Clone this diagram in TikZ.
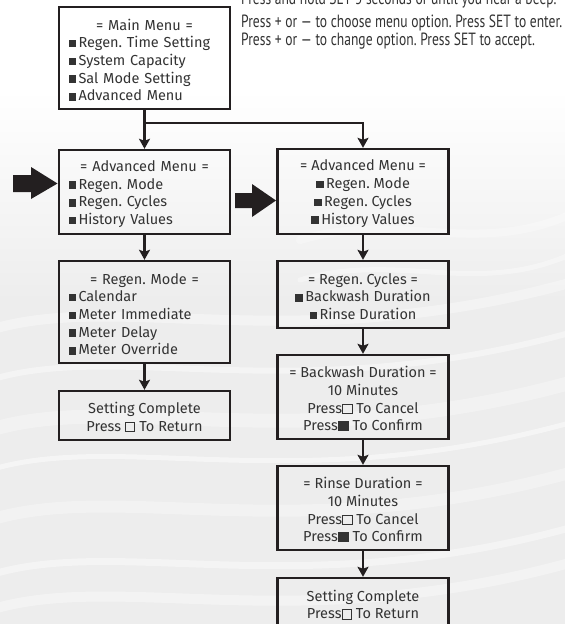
\documentclass[tikz,border=0pt]{standalone}
\usepackage{fontspec}
\setmainfont{Fira Sans}
\newfontfamily\topfont{PT Sans}
\usetikzlibrary{arrows.meta}
\definecolor{ink}{HTML}{231F20}
\definecolor{txt}{HTML}{333333}
\frenchspacing
\newcommand{\bsq}{\rule[0.3pt]{7.5pt}{7.5pt}\hspace{2.5pt}}
\newcommand{\wsq}{{\setlength{\fboxsep}{0pt}\setlength{\fboxrule}{1pt}\fbox{\rule{0pt}{8.5pt}\hspace{8.5pt}}}}
\newcommand{\ksq}{\rule{11pt}{10pt}}
\newcommand{\ttl}[1]{\makebox[152pt]{#1}}
\newcommand{\fst}{\rule{0pt}{15pt}}
\newlength{\notew}
\newcommand{\notefont}{\topfont\fontsize{17.7}{18}\selectfont}
\tikzset{
  box/.style={draw=ink, line width=2.4pt, inner sep=0pt, minimum width=171pt,
    font=\fontsize{14.5}{17.7}\selectfont, text=txt},
  lst/.style={box, text width=152pt, align=left},
  ctr/.style={box, align=center},
  arr/.style={draw=ink, line width=2.4pt, -{Stealth[length=10pt,width=11pt,inset=2pt]}},
  bigarrow/.style={fill=ink},
  note/.style={anchor=base west, inner sep=0pt, text=txt, font=\notefont}
}
\begin{document}
\settowidth{\notew}{\notefont Press + or — to choose menu option. Press SET to enter.}%
\pgfmathsetmacro{\nsx}{321/\notew}%
\begin{tikzpicture}[x=1pt,y=-1pt]
\useasboundingbox (0,0) rectangle (565,624);
% background
\fill[white] (0,0) rectangle (565,624);
\fill[top color=white, bottom color=gray!14] (0,90) rectangle (565,300);
\fill[gray!14] (0,299) rectangle (565,624);
\foreach \y/\w/\o in {330/10/0.35, 380/6/0.4, 430/14/0.3, 470/5/0.45, 520/12/0.3, 575/7/0.4, 610/10/0.35}{
  \draw[white, line width=\w pt, opacity=\o, line cap=round]
    (-10,\y) .. controls (120,\y-40) and (300,\y+30) .. (580,\y-50);
}
\foreach \y/\w/\o in {240/8/0.3, 280/5/0.35}{
  \draw[white, line width=\w pt, opacity=\o, line cap=round]
    (300,\y) .. controls (400,\y-30) and (480,\y+20) .. (580,\y-30);
}
% top notes (condensed to the reference width)
\node[note] (n1) at (241,4.5) {\scalebox{\nsx}[1]{Press and hold SET 5 seconds or until you hear a beep.}};
\node[note] (n2) at (241,27.3) {\scalebox{\nsx}[1]{Press + or — to choose menu option. Press SET to enter.}};
\node[note] (n3) at (241,45.3) {\scalebox{\nsx}[1]{Press + or — to change option. Press SET to accept.}};
% left column
\node[lst, minimum height=102pt] (main) at (144.5,58) {\fst\ttl{= Main Menu =}\\ \bsq Regen. Time Setting\\ \bsq System Capacity\\ \bsq Sal Mode Setting\\ \bsq Advanced Menu};
\node[lst, minimum height=84pt] (advL) at (144.5,192) {\fst\ttl{= Advanced Menu =}\\ \bsq Regen. Mode\\ \bsq Regen. Cycles\\ \bsq History Values};
\node[lst, minimum height=102pt] (modeL) at (144.5,312) {\fst\ttl{= Regen. Mode =}\\ \bsq Calendar\\ \bsq Meter Immediate\\ \bsq Meter Delay\\ \bsq Meter Override};
\node[ctr, minimum height=49pt] (doneL) at (144.5,415.5) {\fst Setting Complete\\ Press \wsq{} To Return};
% right column
\node[ctr, minimum height=85pt] (advR) at (363,191.5) {\fst= Advanced Menu =\\ \bsq Regen. Mode\\ \bsq Regen. Cycles\\ \bsq History Values};
\node[ctr, minimum height=67pt] (cyc) at (363,294.5) {\fst= Regen. Cycles =\\ \bsq Backwash Duration\\ \bsq Rinse Duration};
\node[ctr, minimum height=84pt] (bw) at (363,397) {\fst= Backwash Duration =\\ 10 Minutes\\ Press\wsq{} To Cancel\\ Press\ksq{} To Confirm};
\node[ctr, minimum height=84pt] (rin) at (363,508) {\fst= Rinse Duration =\\ 10 Minutes\\ Press\wsq{} To Cancel\\ Press\ksq{} To Confirm};
\node[ctr, minimum height=50pt] (doneR) at (363,603) {\fst Setting Complete\\ Press\wsq{} To Return};
% connectors
\coordinate (br) at (144.5,123);
\draw[arr] (main.south) -- (advL.north);
\draw[arr] (br) -| (advR.north);
\draw[arr] (advL) -- (modeL);
\draw[arr] (modeL) -- (doneL);
\draw[arr] (advR) -- (cyc);
\draw[arr] (cyc) -- (bw);
\draw[arr] (bw) -- (rin);
\draw[arr] (rin) -- (doneR);
% big arrows
\fill[bigarrow] (13,175) -- (31,175) -- (31,167) -- (57.5,183.5) -- (31,199) -- (31,192) -- (13,192) -- cycle;
\fill[bigarrow] (235,193) -- (252,193) -- (252,184) -- (276,200.5) -- (252,217) -- (252,208) -- (235,208) -- cycle;
\end{tikzpicture}
\end{document}
